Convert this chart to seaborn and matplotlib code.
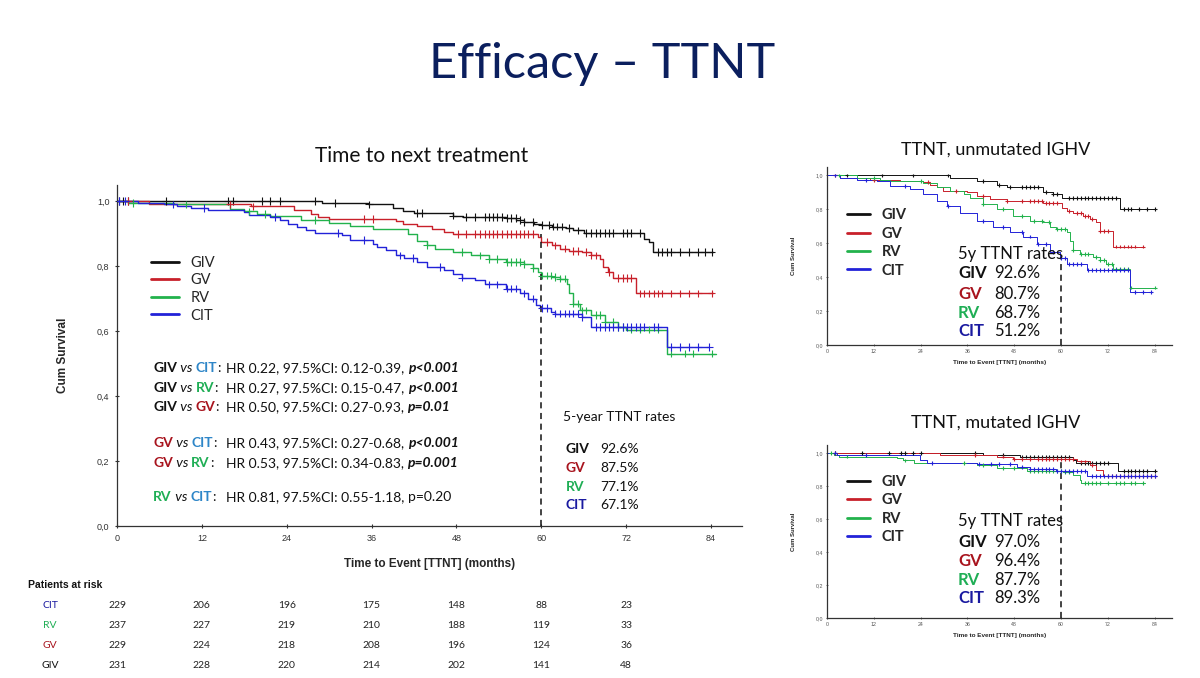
import numpy as np
import pandas as pd
import matplotlib
matplotlib.use("Agg")
import matplotlib.pyplot as plt
import matplotlib.transforms as mtransforms
import seaborn as sns

# ------------------------------------------------------------------
# DATA
# ------------------------------------------------------------------
groups = ["GIV", "GV", "RV", "CIT"]

# main panel, all patients: step times (months) and survival after each step
giv_t = [0, 29, 35.5, 39, 40.5, 42, 47.5, 49, 55, 56.5, 57.5, 59, 60, 61.5, 63.5, 64.5, 66, 74.5, 75.2, 75.8, 84.3]
giv_s = [1.0, 0.995, 0.99, 0.978, 0.97, 0.964, 0.956, 0.951, 0.948, 0.943, 0.936, 0.93, 0.926, 0.922, 0.917, 0.91, 0.902, 0.884, 0.874, 0.843, 0.843]
gv_t = [0, 4.5, 19, 25, 27.5, 28.5, 30, 39.5, 40.5, 42.5, 44.5, 46.3, 47.5, 59.5, 60, 61.5, 62.7, 64, 65.8, 67, 68.3, 68.7, 69.5, 70.2, 73.4, 84.3]
gv_s = [1.0, 0.99, 0.984, 0.973, 0.961, 0.951, 0.946, 0.939, 0.93, 0.923, 0.915, 0.905, 0.9, 0.89, 0.875, 0.864, 0.854, 0.847, 0.843, 0.833, 0.823, 0.797, 0.782, 0.764, 0.716, 0.716]
rv_t = [0, 1.5, 8, 16, 18, 19.8, 21.7, 26, 30, 33, 36.2, 41.2, 42.5, 43.8, 45, 47.5, 50, 52.6, 55, 57.6, 58.9, 59.5, 60, 61.5, 62.7, 63.6, 64, 64.5, 65.5, 67, 69, 70.8, 72, 77.8, 84.7]
rv_s = [1.0, 0.995, 0.99, 0.976, 0.969, 0.961, 0.956, 0.943, 0.932, 0.925, 0.915, 0.9, 0.879, 0.864, 0.854, 0.843, 0.833, 0.823, 0.813, 0.806, 0.795, 0.782, 0.771, 0.767, 0.762, 0.746, 0.716, 0.685, 0.664, 0.649, 0.629, 0.613, 0.605, 0.531, 0.531]
cit_t = [0, 3, 6.6, 8.5, 10.4, 12.9, 18, 18.6, 21.7, 23, 24.2, 25.5, 26.8, 28, 31.8, 33, 36.2, 36.8, 38.1, 39.4, 40.6, 42.5, 43.8, 46.3, 47.5, 48.8, 50.7, 52, 55, 57, 58.2, 59.2, 59.8, 61.4, 62, 65.8, 67, 77.8, 83.8]
cit_s = [1.0, 0.995, 0.99, 0.984, 0.98, 0.973, 0.968, 0.959, 0.951, 0.943, 0.93, 0.92, 0.91, 0.902, 0.895, 0.881, 0.869, 0.859, 0.849, 0.833, 0.826, 0.813, 0.797, 0.789, 0.777, 0.765, 0.757, 0.744, 0.731, 0.716, 0.70, 0.68, 0.671, 0.659, 0.654, 0.644, 0.613, 0.552, 0.552]

# censoring times (months), main panel
giv_c = [0.3, 0.9, 1.6, 6.9, 15.7, 16.4, 20.5, 21.7, 23, 28, 30.9, 35.6, 42.5, 43.1, 47.5, 49.4, 50.7, 52, 52.6, 53.2, 53.8, 54.5, 55.1, 55.7, 56.4, 57, 57.6, 58.9, 60.1, 61.1, 61.7, 62.3, 63, 63.9, 65.2, 66.4, 67.1, 67.7, 68.3, 69, 69.6, 70.2, 71.5, 72.1, 72.7, 74, 76.5, 77.1, 77.8, 78.4, 79.7, 80.9, 82.2, 83.1, 84.1]
gv_c = [1.6, 16, 19.2, 35, 36.2, 48.2, 49.4, 50.7, 51.3, 52, 52.6, 53.2, 53.8, 54.5, 55.1, 55.7, 56.4, 57, 57.6, 58.2, 58.9, 60.8, 62, 63.3, 64.5, 65.2, 66.4, 67.1, 67.7, 69.6, 70.8, 71.5, 72.1, 72.7, 74, 74.6, 75.3, 75.9, 76.5, 77.1, 78.4, 79.7, 80.9, 82.2, 84.1]
rv_c = [2.2, 9.8, 18.6, 21, 28, 43.8, 48.8, 51.3, 52.6, 53.8, 55.1, 55.7, 56.4, 57, 57.6, 58.9, 60.1, 60.8, 61.4, 62, 62.7, 63.3, 64.5, 65.2, 65.8, 66.4, 67.7, 68.3, 69, 70.2, 70.8, 71.5, 72.7, 74, 75.3, 76.5, 78.4, 80.3, 81.5, 84.1]
cit_c = [0.3, 1.2, 7.9, 12.3, 22.4, 31.2, 35, 40, 41.9, 45.7, 48.8, 52.6, 53.8, 55.1, 55.7, 56.4, 57.6, 58.9, 60.1, 60.8, 62, 62.7, 63.3, 63.9, 64.5, 65.2, 65.8, 67.7, 68.3, 69, 69.6, 70.2, 70.8, 71.5, 72.1, 72.7, 73.4, 74, 74.6, 75.9, 76.5, 78.4, 79.7, 80.9, 82.2, 83.8]

# unmutated IGHV panel
um_giv_t = [0, 31.5, 38.4, 43.5, 46, 55.4, 58, 60.1, 61.4, 75, 84]
um_giv_s = [1.0, 0.988, 0.969, 0.945, 0.93, 0.90, 0.89, 0.87, 0.865, 0.80, 0.80]
um_gv_t = [0, 3.4, 11, 18.8, 24.7, 26.4, 28.1, 29.8, 35.8, 38.4, 41.8, 46, 50.3, 55.4, 60.1, 61.4, 63.1, 65.6, 67.3, 69, 69.9, 73.3, 81]
um_gv_s = [1.0, 0.988, 0.975, 0.965, 0.96, 0.945, 0.93, 0.91, 0.90, 0.88, 0.86, 0.85, 0.848, 0.84, 0.807, 0.79, 0.777, 0.763, 0.744, 0.724, 0.675, 0.581, 0.581]
um_rv_t = [0, 7.7, 13.6, 16.2, 24.7, 28.1, 31.5, 35, 36.7, 40, 43.5, 47.7, 52, 55.4, 57.1, 58.8, 61.4, 62.2, 63, 64.8, 68.2, 69.9, 71.6, 73.3, 77.6, 84.4]
um_rv_s = [1.0, 0.985, 0.973, 0.969, 0.953, 0.933, 0.91, 0.89, 0.87, 0.83, 0.80, 0.763, 0.734, 0.724, 0.695, 0.687, 0.665, 0.616, 0.558, 0.538, 0.52, 0.50, 0.476, 0.45, 0.339, 0.339]
um_cit_t = [0, 3.4, 7.7, 12.8, 16.2, 21.3, 24.7, 28.1, 30.7, 34.1, 38.4, 42.6, 46.9, 50.3, 53.7, 57.1, 59.7, 61.4, 66.5, 77.6, 83]
um_cit_s = [1.0, 0.988, 0.975, 0.965, 0.94, 0.92, 0.89, 0.85, 0.82, 0.78, 0.734, 0.695, 0.665, 0.64, 0.597, 0.548, 0.512, 0.48, 0.44, 0.313, 0.313]
um_giv_c = [5, 14, 22, 31, 40, 44, 47, 50, 51, 52, 53, 54, 56, 58, 59, 62, 63, 64, 65, 66, 67, 68, 69, 70, 71, 72, 73, 74, 76, 77, 78, 80, 82, 84]
um_gv_c = [2, 12, 26, 33, 40, 46, 50, 52, 53, 54, 55, 56, 57, 58, 59, 62, 64, 65, 66, 67, 68, 70, 71, 72, 74, 75, 76, 77, 78, 79, 81]
um_rv_c = [3, 12, 24, 40, 45, 50, 53, 55, 57, 59, 60, 61, 63, 65, 66, 67, 69, 70, 71, 72, 73, 74, 75, 76, 77, 78, 84]
um_cit_c = [2, 10, 20, 31, 40, 45, 50, 52, 54, 56, 58, 60, 61, 62, 63, 64, 65, 67, 68, 69, 70, 71, 72, 73, 74, 75, 76, 77, 79, 81, 83]

# mutated IGHV panel
mu_giv_t = [0, 40, 49.4, 63.1, 63.8, 74.6, 84]
mu_giv_s = [1.0, 0.99, 0.98, 0.96, 0.94, 0.89, 0.89]
mu_gv_t = [0, 29, 43.5, 47.7, 64, 67.3, 69, 70.8, 84]
mu_gv_s = [1.0, 0.99, 0.98, 0.964, 0.95, 0.93, 0.90, 0.86, 0.86]
mu_rv_t = [0, 1.7, 3, 17.9, 19.6, 22.2, 38.4, 43.5, 51.2, 60.5, 63, 64.8, 65.2, 81.4]
mu_rv_s = [1.0, 0.99, 0.98, 0.97, 0.956, 0.94, 0.93, 0.91, 0.895, 0.885, 0.87, 0.84, 0.82, 0.82]
mu_cit_t = [0, 2.6, 23.9, 25.6, 38.4, 48.6, 52, 58.8, 66.5, 84]
mu_cit_s = [1.0, 0.99, 0.96, 0.943, 0.933, 0.915, 0.903, 0.895, 0.86, 0.86]
mu_giv_c = [2, 9, 16, 19, 20, 22, 24, 38, 45, 50, 51, 52, 53, 54, 55, 56, 57, 58, 59, 60, 61, 62, 65, 66, 67, 68, 69, 70, 71, 72, 76, 77, 78, 79, 80, 81, 82, 84]
mu_gv_c = [2, 38, 45, 48, 50, 52, 54, 55, 56, 57, 58, 59, 60, 61, 62, 63, 65, 66, 68, 72, 73, 74, 75, 76, 77, 78, 79, 80, 81, 82, 83, 84]
mu_rv_c = [1, 5, 20, 35, 40, 45, 48, 52, 53, 54, 55, 56, 57, 58, 59, 60, 61, 62, 66, 67, 68, 69, 70, 72, 74, 75, 76, 78, 79, 81]
mu_cit_c = [2, 10, 27, 39, 42, 44, 47, 50, 52, 53, 54, 55, 56, 57, 58, 59, 60, 61, 62, 63, 64, 65, 66, 68, 69, 70, 71, 72, 73, 74, 75, 76, 77, 78, 79, 80, 81, 82, 83, 84]

# patients at risk (rows top to bottom)
risk_times = [0, 12, 24, 36, 48, 60, 72]
risk_rows = ["CIT", "RV", "GV", "GIV"]
risk_cit = [229, 206, 196, 175, 148, 88, 23]
risk_rv = [237, 227, 219, 210, 188, 119, 33]
risk_gv = [229, 224, 218, 208, 196, 124, 36]
risk_giv = [231, 228, 220, 214, 202, 141, 48]

# 5-year rates as printed on the slide
rates_all = ["92.6%", "87.5%", "77.1%", "67.1%"]
rates_um = ["92.6%", "80.7%", "68.7%", "51.2%"]
rates_mu = ["97.0%", "96.4%", "87.7%", "89.3%"]

# hazard-ratio comparisons
hr_pairs = [("GIV", "CIT"), ("GIV", "RV"), ("GIV", "GV"), ("GV", "CIT"), ("GV", "RV"), ("RV", "CIT")]
hr_text = ["HR 0.22, 97.5%CI: 0.12-0.39, ", "HR 0.27, 97.5%CI: 0.15-0.47, ", "HR 0.50, 97.5%CI: 0.27-0.93, ",
           "HR 0.43, 97.5%CI: 0.27-0.68, ", "HR 0.53, 97.5%CI: 0.34-0.83, ", "HR 0.81, 97.5%CI: 0.55-1.18, "]
hr_p = ["p<0.001", "p<0.001", "p=0.01", "p<0.001", "p=0.001", "p=0.20"]
hr_p_bold = [True, True, True, True, True, False]

# ------------------------------------------------------------------
# STYLE
# ------------------------------------------------------------------
sns.set_theme(style="ticks")
plt.rcParams["font.family"] = ["Lato", "DejaVu Sans"]

line_col = {"GIV": "#111111", "GV": "#C8202A", "RV": "#22B24C", "CIT": "#2222D8"}
text_col = {"GIV": "#111111", "GV": "#A8141E", "RV": "#1FAE55", "CIT": "#1A1AA0"}
hr_col = {"GIV": "#111111", "GV": "#A8141E", "RV": "#1FAE55", "CIT": "#2E86C8"}
title_col = "#0B1F5E"
axis_font = ["Liberation Sans", "DejaVu Sans"]


def step_value(t, s, x):
    idx = np.searchsorted(np.asarray(t), x, side="right") - 1
    return np.asarray(s)[np.clip(idx, 0, len(s) - 1)]


def km_panel(ax, curves, censors, lw, msize):
    frames, cframes = [], []
    for g in groups:
        t, s = curves[g]
        frames.append(pd.DataFrame({"month": t, "surv": s, "arm": g}))
        c = censors[g]
        cframes.append(pd.DataFrame({"month": c, "surv": step_value(t, s, c), "arm": g}))
    df = pd.concat(frames)
    cdf = pd.concat(cframes)
    sns.lineplot(data=df, x="month", y="surv", hue="arm", hue_order=groups, palette=line_col,
                 estimator=None, drawstyle="steps-post", lw=lw, ax=ax, legend=False)
    sns.scatterplot(data=cdf, x="month", y="surv", hue="arm", hue_order=groups, palette=line_col,
                    marker="+", s=msize, linewidth=0.8, ax=ax, legend=False, zorder=3)
    ax.set_xlim(0, 88.4)
    ax.set_ylim(0, 1.05)
    ax.set_xticks([0, 12, 24, 36, 48, 60, 72, 84])
    ax.set_yticks([0, 0.2, 0.4, 0.6, 0.8, 1.0])
    ax.set_yticklabels(["0,0", "0,2", "0,4", "0,6", "0,8", "1,0"])
    sns.despine(ax=ax)
    for sp in ["left", "bottom"]:
        ax.spines[sp].set_color("#333333")
        ax.spines[sp].set_linewidth(0.9)
    ax.set_xlabel("")
    ax.set_ylabel("")


def legend_lines(ax, size, anchor, length, spacing, bold=False):
    handles = [plt.Line2D([], [], color=line_col[g], lw=2.0) for g in groups]
    ax.legend(handles, groups, loc="upper left", bbox_to_anchor=anchor, frameon=False,
              handlelength=length, labelspacing=spacing, handletextpad=0.8,
              prop={"size": size, "weight": "bold" if bold else "normal"}, borderaxespad=0)


def rich(fig, x, y, parts, size):
    # parts: (text, colour, weight, style); x, y in pixels from top-left
    prev = None
    for txt, col, wt, st in parts:
        if prev is None:
            prev = fig.text(x / 1200, 1 - y / 678, txt, color=col, fontsize=size, weight=wt,
                            style=st, ha="left", va="center")
        else:
            prev = fig.axes[0].annotate(txt, xy=(1, 0), xycoords=prev, color=col, fontsize=size,
                                        weight=wt, style=st, ha="left", va="bottom",
                                        annotation_clip=False)


# ------------------------------------------------------------------
# FIGURE
# ------------------------------------------------------------------
fig = plt.figure(figsize=(12, 6.78), dpi=100)
fig.patch.set_facecolor("white")

ax = fig.add_axes([117 / 1200, 1 - 526 / 678, 625 / 1200, 341 / 678])
ax_um = fig.add_axes([827 / 1200, 1 - 345 / 678, 345 / 1200, 178 / 678])
ax_mu = fig.add_axes([827 / 1200, 1 - 618 / 678, 345 / 1200, 173 / 678])

km_panel(ax, {"GIV": (giv_t, giv_s), "GV": (gv_t, gv_s), "RV": (rv_t, rv_s), "CIT": (cit_t, cit_s)},
         {"GIV": giv_c, "GV": gv_c, "RV": rv_c, "CIT": cit_c}, 1.0, 30)
km_panel(ax_um, {"GIV": (um_giv_t, um_giv_s), "GV": (um_gv_t, um_gv_s), "RV": (um_rv_t, um_rv_s),
                 "CIT": (um_cit_t, um_cit_s)},
         {"GIV": um_giv_c, "GV": um_gv_c, "RV": um_rv_c, "CIT": um_cit_c}, 0.7, 8)
km_panel(ax_mu, {"GIV": (mu_giv_t, mu_giv_s), "GV": (mu_gv_t, mu_gv_s), "RV": (mu_rv_t, mu_rv_s),
                 "CIT": (mu_cit_t, mu_cit_s)},
         {"GIV": mu_giv_c, "GV": mu_gv_c, "RV": mu_rv_c, "CIT": mu_cit_c}, 0.7, 8)

# axis styling
ax.tick_params(axis="both", labelsize=6.5, colors="#333333", length=3, width=0.8, direction="inout", pad=4)
for a in (ax_um, ax_mu):
    a.tick_params(axis="both", labelsize=3.8, colors="#555555", length=2, width=0.6, direction="inout", pad=2)
for a in (ax, ax_um, ax_mu):
    for lab in a.get_xticklabels() + a.get_yticklabels():
        lab.set_family(axis_font)

ax.set_ylabel("Cum Survival", fontsize=8.5, weight="bold", family=axis_font, labelpad=20)
ax.set_xlabel("Time to Event [TTNT] (months)", fontsize=8.5, weight="bold", family=axis_font, labelpad=11)
for a in (ax_um, ax_mu):
    a.set_ylabel("Cum Survival", fontsize=4.3, weight="bold", family=axis_font, labelpad=14)
    a.set_xlabel("Time to Event [TTNT] (months)", fontsize=4.6, weight="bold", family=axis_font, labelpad=4)

# 5-year reference lines
ax.vlines(60, 0, 0.90, colors="#111111", linestyles=(0, (4, 3)), lw=1.1)
ax_um.vlines(60, 0, 0.51, colors="#111111", linestyles=(0, (4, 3)), lw=1.1)
ax_mu.vlines(60, 0, 0.96, colors="#111111", linestyles=(0, (4, 3)), lw=1.1)

legend_lines(ax, 10.5, (0.045, 0.81), 1.9, 0.25)
legend_lines(ax_um, 10.5, (0.04, 0.80), 1.6, 0.3, bold=True)
legend_lines(ax_mu, 10.5, (0.04, 0.86), 1.6, 0.3, bold=True)

# titles
fig.text(0.502, 1 - 64 / 678, "Efficacy \u2013 TTNT", ha="center", va="center", fontsize=35, color=title_col)
fig.text(422 / 1200, 1 - 156 / 678, "Time to next treatment", ha="center", va="center", fontsize=15, color="#111111")
fig.text(996 / 1200, 1 - 150 / 678, "TTNT, unmutated IGHV", ha="center", va="center", fontsize=13, color="#111111")
fig.text(996 / 1200, 1 - 423 / 678, "TTNT, mutated IGHV", ha="center", va="center", fontsize=13, color="#111111")

# hazard ratio block
hr_y = [368, 388, 407, 443, 463, 497]
for (a_, b_), txt, p, pb, yy in zip(hr_pairs, hr_text, hr_p, hr_p_bold, hr_y):
    rich(fig, 153, yy, [(a_, hr_col[a_], "bold", "normal"), (" vs ", "#111111", "normal", "italic"),
                        (b_, hr_col[b_], "bold", "normal"), (":", "#111111", "normal", "normal")], 10)
    rich(fig, 226, yy, [(txt, "#111111", "normal", "normal"),
                        (p, "#111111", "bold" if pb else "normal", "italic" if pb else "normal")], 10)

# 5-year rates blocks
fig.text(563 / 1200, 1 - 417 / 678, "5-year TTNT rates", ha="left", va="center", fontsize=10, color="#111111")
for g, r, yy in zip(groups, rates_all, [449, 468, 487, 505]):
    fig.text(566 / 1200, 1 - yy / 678, g, ha="left", va="center", fontsize=10, weight="bold", color=text_col[g])
    fig.text(600 / 1200, 1 - yy / 678, r, ha="left", va="center", fontsize=10, color="#111111")

for head_y, rows_y, rates in [(254, [273, 294, 313, 331], rates_um), (521, [542, 561, 580, 598], rates_mu)]:
    fig.text(958 / 1200, 1 - head_y / 678, "5y TTNT rates", ha="left", va="center", fontsize=12, color="#111111")
    for g, r, yy in zip(groups, rates, rows_y):
        fig.text(958 / 1200, 1 - yy / 678, g, ha="left", va="center", fontsize=12, weight="bold", color=text_col[g])
        fig.text(994 / 1200, 1 - yy / 678, r, ha="left", va="center", fontsize=12, color="#111111")

# patients at risk table, columns follow the main x axis
fig.text(28 / 1200, 1 - 585 / 678, "Patients at risk", ha="left", va="center", fontsize=7.5,
         weight="bold", family=axis_font, color="#111111")
trans = mtransforms.blended_transform_factory(ax.transData, fig.transFigure)
risk_vals = {"CIT": risk_cit, "RV": risk_rv, "GV": risk_gv, "GIV": risk_giv}
for g, yy in zip(risk_rows, [606, 626, 646, 665]):
    fig.text(50 / 1200, 1 - yy / 678, g, ha="center", va="center", fontsize=7.5, color=text_col[g])
    for t, n in zip(risk_times, risk_vals[g]):
        ax.text(t, 1 - yy / 678, str(n), transform=trans, ha="center", va="center", fontsize=7.5,
                color="#222222", clip_on=False)

fig.savefig("out.png", dpi=100, facecolor="white")
